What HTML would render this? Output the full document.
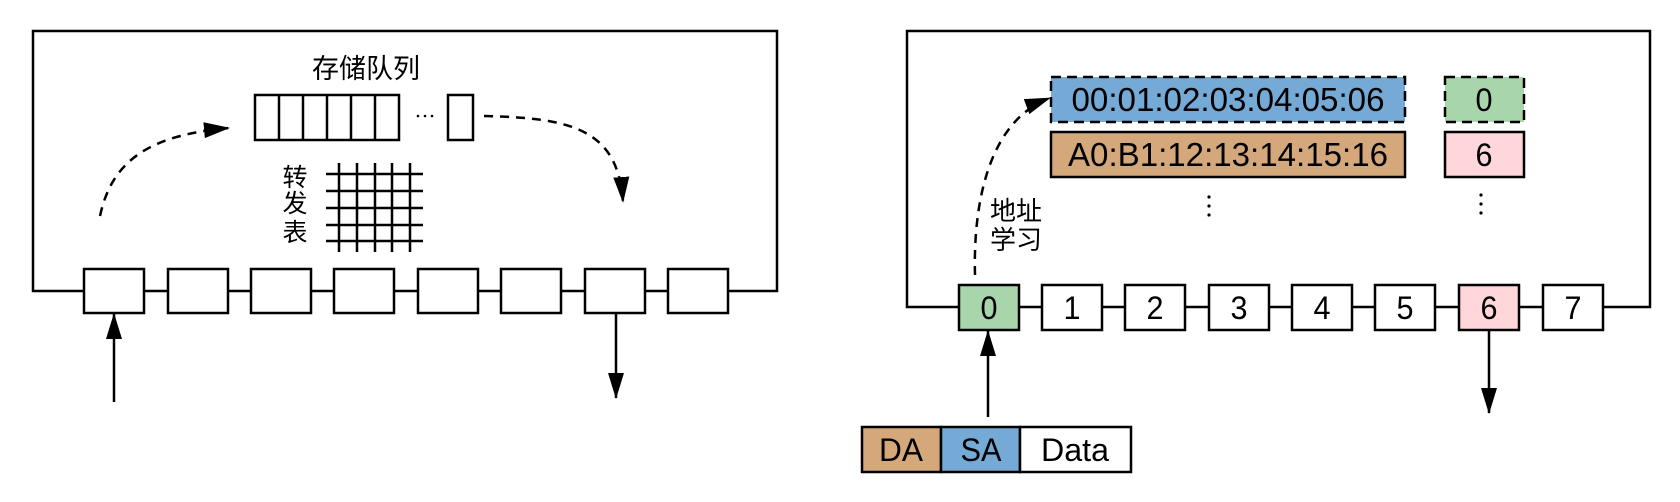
<!DOCTYPE html>
<html><head><meta charset="utf-8"><style>
html,body{margin:0;padding:0;background:#fff;}
svg{display:block;}
text{font-family:"Liberation Sans","Noto Sans CJK SC",sans-serif;fill:#000;}
</style></head><body>
<svg width="1680" height="502" viewBox="0 0 1680 502" xmlns="http://www.w3.org/2000/svg">
<defs>
<marker id="ah" viewBox="0 0 26 18" refX="25" refY="9" markerWidth="26" markerHeight="18" orient="auto" markerUnits="userSpaceOnUse"><path d="M0,1 L26,9 L0,17 z" fill="#000" stroke="none"/></marker>
</defs>
<g stroke="#000" stroke-width="2.5" fill="none">
<path d="M84,291 H33 V31 H777 V291 H728"/>
<g>
<line x1="144" y1="291" x2="168" y2="291"/><line x1="228" y1="291" x2="251" y2="291"/>
<line x1="311" y1="291" x2="334" y2="291"/><line x1="394" y1="291" x2="418" y2="291"/>
<line x1="478" y1="291" x2="501" y2="291"/><line x1="561" y1="291" x2="585" y2="291"/>
<line x1="645" y1="291" x2="668" y2="291"/>
</g>
<g fill="#fff">
<rect x="84" y="269" width="60" height="44"/><rect x="168" y="269" width="60" height="44"/>
<rect x="251" y="269" width="60" height="44"/><rect x="334" y="269" width="60" height="44"/>
<rect x="418" y="269" width="60" height="44"/><rect x="501" y="269" width="60" height="44"/>
<rect x="585" y="269" width="60" height="44"/><rect x="668" y="269" width="60" height="44"/>
</g>
<g>
<rect x="255" y="95" width="144" height="45"/>
<line x1="279" y1="95" x2="279" y2="140"/><line x1="303" y1="95" x2="303" y2="140"/>
<line x1="327" y1="95" x2="327" y2="140"/><line x1="351" y1="95" x2="351" y2="140"/>
<line x1="375" y1="95" x2="375" y2="140"/>
<rect x="448" y="95" width="25" height="45"/>
</g>
<g>
<line x1="326" y1="174" x2="423" y2="174"/><line x1="326" y1="191" x2="423" y2="191"/>
<line x1="326" y1="208" x2="423" y2="208"/><line x1="326" y1="225" x2="423" y2="225"/>
<line x1="326" y1="241" x2="423" y2="241"/>
<line x1="339" y1="163" x2="339" y2="252"/><line x1="357" y1="163" x2="357" y2="252"/>
<line x1="375" y1="163" x2="375" y2="252"/><line x1="392" y1="163" x2="392" y2="252"/>
<line x1="410" y1="163" x2="410" y2="252"/>
</g>
<path d="M100,216 C112,160 150,135 229,128" stroke-dasharray="9,7" marker-end="url(#ah)"/>
<path d="M484,116 C570,118 618,128 623,202" stroke-dasharray="9,7" marker-end="url(#ah)"/>
<line x1="114" y1="402" x2="114" y2="314" marker-end="url(#ah)"/>
<line x1="616" y1="313" x2="616" y2="398" marker-end="url(#ah)"/>

<path d="M959,307 H907 V31 H1650 V307 H1604"/>
<g>
<line x1="1019" y1="307" x2="1042" y2="307"/><line x1="1102" y1="307" x2="1125" y2="307"/>
<line x1="1185" y1="307" x2="1209" y2="307"/><line x1="1269" y1="307" x2="1292" y2="307"/>
<line x1="1352" y1="307" x2="1375" y2="307"/><line x1="1435" y1="307" x2="1459" y2="307"/>
<line x1="1519" y1="307" x2="1543" y2="307"/>
</g>
<rect x="1051" y="77" width="354" height="45" fill="#75a9d6" stroke-dasharray="10,6"/>
<rect x="1051" y="132" width="354" height="45" fill="#d4a87a"/>
<rect x="1445" y="77" width="79" height="45" fill="#a8d5aa" stroke-dasharray="10,6"/>
<rect x="1445" y="132" width="79" height="45" fill="#ffd6d9"/>
<path d="M975,275 C973,200 990,120 1050,98" stroke-dasharray="9,7" marker-end="url(#ah)"/>
<line x1="988" y1="417" x2="988" y2="331" marker-end="url(#ah)"/>
<line x1="1489" y1="330" x2="1489" y2="413" marker-end="url(#ah)"/>
<rect x="862" y="427" width="79" height="45" fill="#d4a87a"/>
<rect x="941" y="427" width="79" height="45" fill="#75a9d6"/>
<rect x="1020" y="427" width="111" height="45" fill="#fff"/>
</g>
<g stroke="#000" stroke-width="2.5">
<rect x="959" y="285" width="60" height="45" fill="#a8d5aa"/>
<rect x="1042" y="285" width="60" height="45" fill="#fff"/>
<rect x="1125" y="285" width="60" height="45" fill="#fff"/>
<rect x="1209" y="285" width="60" height="45" fill="#fff"/>
<rect x="1292" y="285" width="60" height="45" fill="#fff"/>
<rect x="1375" y="285" width="60" height="45" fill="#fff"/>
<rect x="1459" y="285" width="60" height="45" fill="#ffd6d9"/>
<rect x="1543" y="285" width="60" height="45" fill="#fff"/>
</g>
<g font-size="32" text-anchor="middle">
<text x="989" y="319" textLength="17" lengthAdjust="spacingAndGlyphs">0</text>
<text x="1072" y="319" textLength="17" lengthAdjust="spacingAndGlyphs">1</text>
<text x="1155" y="319" textLength="17" lengthAdjust="spacingAndGlyphs">2</text>
<text x="1239" y="319" textLength="17" lengthAdjust="spacingAndGlyphs">3</text>
<text x="1322" y="319" textLength="17" lengthAdjust="spacingAndGlyphs">4</text>
<text x="1405" y="319" textLength="17" lengthAdjust="spacingAndGlyphs">5</text>
<text x="1489" y="319" textLength="17" lengthAdjust="spacingAndGlyphs">6</text>
<text x="1573" y="319" textLength="17" lengthAdjust="spacingAndGlyphs">7</text>
</g>
<text x="1228" y="111" font-size="33" text-anchor="middle" textLength="313" lengthAdjust="spacingAndGlyphs">00:01:02:03:04:05:06</text>
<text x="1228" y="166" font-size="33" text-anchor="middle" textLength="320" lengthAdjust="spacingAndGlyphs">A0:B1:12:13:14:15:16</text>
<text x="1484" y="111" font-size="32" text-anchor="middle" textLength="17" lengthAdjust="spacingAndGlyphs">0</text>
<text x="1484" y="166" font-size="32" text-anchor="middle" textLength="17" lengthAdjust="spacingAndGlyphs">6</text>
<text x="901" y="461" font-size="32" text-anchor="middle" textLength="44" lengthAdjust="spacingAndGlyphs">DA</text>
<text x="981" y="461" font-size="32" text-anchor="middle" textLength="41" lengthAdjust="spacingAndGlyphs">SA</text>
<text x="1075" y="461" font-size="32" text-anchor="middle" textLength="68" lengthAdjust="spacingAndGlyphs">Data</text>
<g fill="#000">
<circle cx="1209" cy="197" r="1.6"/><circle cx="1209" cy="206" r="1.6"/><circle cx="1209" cy="215" r="1.6"/>
<circle cx="1481" cy="195" r="1.6"/><circle cx="1481" cy="204" r="1.6"/><circle cx="1481" cy="213" r="1.6"/>
<circle cx="418" cy="116" r="1.3"/><circle cx="425" cy="116" r="1.3"/><circle cx="432" cy="116" r="1.3"/>
</g>
<text x="990" y="220" font-size="26">地址</text>
<text x="990" y="249" font-size="26">学习</text>
<text x="366" y="78" font-size="27" text-anchor="middle">存储队列</text>
<g font-size="25" text-anchor="middle">
<text x="295" y="186">转</text><text x="295" y="212">发</text><text x="295" y="241">表</text>
</g>
</svg>
</body></html>
